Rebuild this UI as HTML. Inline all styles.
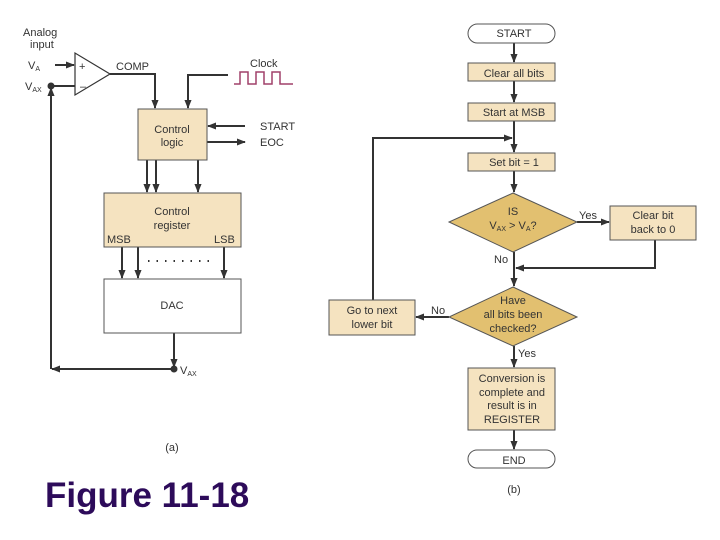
<!DOCTYPE html>
<html><head><style>
body{margin:0;background:#fff;width:720px;height:540px;overflow:hidden}
svg{position:absolute;left:0;top:0}
text{font-family:"Liberation Sans",sans-serif;fill:#333;font-size:11px}
</style></head><body>
<svg width="720" height="540" viewBox="0 0 720 540">
<defs><marker id="a" viewBox="0 0 10 10" refX="9" refY="5" markerWidth="4.5" markerHeight="4.5" orient="auto"><path d="M0,1 L10,5 L0,9 z" fill="#333"/></marker></defs>
<g stroke="#333" stroke-width="2" fill="none">
<polygon points="75,53 75,95 110,74" fill="#fff" stroke-width="1.2"/>
<line x1="55" y1="65" x2="74" y2="65" marker-end="url(#a)"/>
<line x1="51" y1="86" x2="75" y2="86"/>
<polyline points="110,74 155,74 155,108" marker-end="url(#a)"/>
<polyline points="228,75 188,75 188,108" marker-end="url(#a)"/>
<line x1="245" y1="126" x2="208" y2="126" marker-end="url(#a)"/>
<line x1="207" y1="142" x2="245" y2="142" marker-end="url(#a)"/>
<line x1="147" y1="160" x2="147" y2="192" marker-end="url(#a)"/>
<line x1="156" y1="160" x2="156" y2="192" marker-end="url(#a)"/>
<line x1="198" y1="160" x2="198" y2="192" marker-end="url(#a)"/>
<line x1="122" y1="247" x2="122" y2="278" marker-end="url(#a)"/>
<line x1="138" y1="247" x2="138" y2="278" marker-end="url(#a)"/>
<line x1="224" y1="247" x2="224" y2="278" marker-end="url(#a)"/>
<line x1="174" y1="333" x2="174" y2="367" marker-end="url(#a)"/>
<line x1="174" y1="369" x2="52" y2="369" marker-end="url(#a)"/>
<line x1="51" y1="369" x2="51" y2="88" marker-end="url(#a)"/>
<line x1="514" y1="43" x2="514" y2="62" marker-end="url(#a)"/>
<line x1="514" y1="81" x2="514" y2="102" marker-end="url(#a)"/>
<line x1="514" y1="121" x2="514" y2="152" marker-end="url(#a)"/>
<polyline points="373,300 373,138 512,138" marker-end="url(#a)"/>
<line x1="514" y1="171" x2="514" y2="192" marker-end="url(#a)"/>
<line x1="577" y1="222" x2="609" y2="222" marker-end="url(#a)"/>
<polyline points="655,240 655,268 516,268" marker-end="url(#a)"/>
<line x1="514" y1="252" x2="514" y2="286" marker-end="url(#a)"/>
<line x1="449" y1="317" x2="416" y2="317" marker-end="url(#a)"/>
<line x1="514" y1="346" x2="514" y2="367" marker-end="url(#a)"/>
<line x1="514" y1="430" x2="514" y2="449" marker-end="url(#a)"/>
</g>
<circle cx="51" cy="86" r="3.5" fill="#333"/>
<circle cx="174" cy="369" r="3.5" fill="#333"/>
<polyline points="234,84 240,84 240,72 248,72 248,84 256,84 256,72 264,72 264,84 272,84 272,72 280,72 280,84 293,84" fill="none" stroke="#a0406a" stroke-width="1.5"/>
<g stroke="#555" stroke-width="1">
<rect x="138" y="109" width="69" height="51" fill="#f5e3c0"/>
<rect x="104" y="193" width="137" height="54" fill="#f5e3c0"/>
<rect x="104" y="279" width="137" height="54" fill="#fff"/>
<rect x="468" y="24" width="87" height="19" rx="9.5" fill="#fff"/>
<rect x="468" y="63" width="87" height="18" fill="#f5e3c0"/>
<rect x="468" y="103" width="87" height="18" fill="#f5e3c0"/>
<rect x="468" y="153" width="87" height="18" fill="#f5e3c0"/>
<polygon points="513,193 577,222 513,252 449,222" fill="#e2c070"/>
<rect x="610" y="206" width="86" height="34" fill="#f5e3c0"/>
<polygon points="513,287 577,317 513,346 449,317" fill="#e2c070"/>
<rect x="329" y="300" width="86" height="35" fill="#f5e3c0"/>
<rect x="468" y="368" width="87" height="62" fill="#f5e3c0"/>
<rect x="468" y="450" width="87" height="18" rx="9" fill="#fff"/>
</g>
<g stroke="#333" stroke-width="2" stroke-dasharray="1.5 7"><line x1="148" y1="261" x2="216" y2="261"/></g>
<text x="23" y="36">Analog</text><text x="30" y="48">input</text>
<text x="28" y="69">V<tspan font-size="7" dy="2">A</tspan></text>
<text x="25" y="90">V<tspan font-size="7" dy="2">AX</tspan></text>
<text x="79" y="70" font-size="10">+</text><text x="80" y="90" font-size="10">–</text>
<text x="116" y="70">COMP</text>
<text x="250" y="67">Clock</text>
<text x="260" y="130">START</text><text x="260" y="146">EOC</text>
<text x="172" y="133" text-anchor="middle">Control</text><text x="172" y="146" text-anchor="middle">logic</text>
<text x="172" y="215" text-anchor="middle">Control</text><text x="172" y="229" text-anchor="middle">register</text>
<text x="107" y="243">MSB</text><text x="214" y="243">LSB</text>
<text x="172" y="309" text-anchor="middle">DAC</text>
<text x="180" y="374">V<tspan font-size="7" dy="2">AX</tspan></text>
<text x="172" y="451" text-anchor="middle" font-size="10">(a)</text>
<g text-anchor="middle">
<text x="514" y="37">START</text>
<text x="514" y="77">Clear all bits</text>
<text x="514" y="116">Start at MSB</text>
<text x="514" y="166">Set bit = 1</text>
<text x="513" y="215">IS</text>
<text x="513" y="229">V<tspan font-size="7" dy="2">AX</tspan><tspan dy="-2"> &gt; V</tspan><tspan font-size="7" dy="2">A</tspan><tspan dy="-2">?</tspan></text>
<text x="653" y="219">Clear bit</text><text x="653" y="233">back to 0</text>
<text x="513" y="304">Have</text><text x="513" y="318">all bits been</text><text x="513" y="332">checked?</text>
<text x="372" y="314">Go to next</text><text x="372" y="328">lower bit</text>
<text x="512" y="382">Conversion is</text><text x="512" y="396">complete and</text><text x="512" y="409">result is in</text><text x="512" y="423">REGISTER</text>
<text x="514" y="464">END</text>
<text x="514" y="493" font-size="10">(b)</text>
</g>
<text x="579" y="219">Yes</text>
<text x="494" y="263">No</text>
<text x="431" y="314">No</text>
<text x="518" y="357">Yes</text>
<text x="45" y="507" style="font-size:35px;font-weight:bold;fill:#2d0b5a">Figure 11-18</text>
</svg>
</body></html>
